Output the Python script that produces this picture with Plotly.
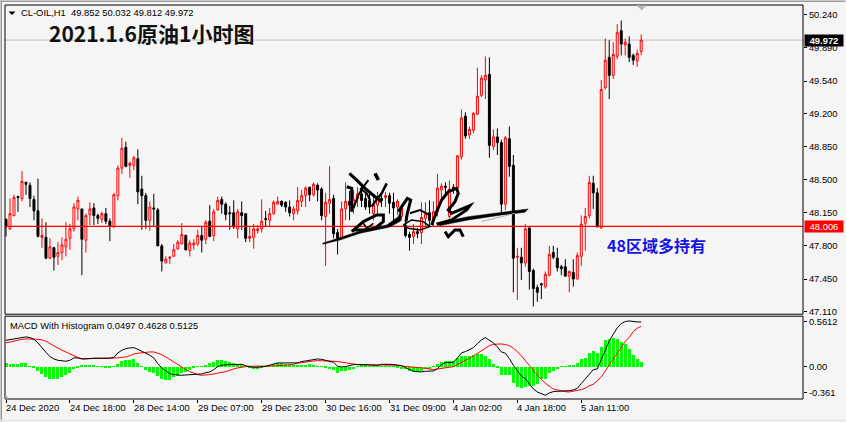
import plotly.graph_objects as go

opens = [48.08,47.98,48.12,48.32,48.30,48.47,48.44,48.29,48.17,47.89,47.89,47.67,47.78,47.69,47.73,47.79,47.88,47.98,48.19,48.19,
47.86,48.13,48.20,48.12,48.08,48.14,48.06,48.00,48.33,48.62,48.84,48.65,48.65,48.72,48.40,48.33,48.07,48.20,48.18,47.80,
47.62,47.67,47.69,47.77,47.82,47.91,47.75,47.81,47.82,47.91,47.87,48.06,47.91,48.18,48.29,48.24,48.15,48.15,47.98,48.15,
48.14,47.88,47.89,47.96,47.98,48.09,48.07,48.14,48.24,
48.27,48.26,48.21,48.14,48.17,48.27,48.33,48.42,48.34,48.44,48.40,48.11,48.25,48.30,47.94,47.89,48.19,48.27,48.24,48.30,
48.35,48.30,48.28,48.14,48.23,48.30,48.31,48.33,48.26,48.21,48.11,48.02,47.92,47.90,47.95,47.94,48.09,48.15,48.09,48.16,
48.39,48.43,48.11,48.42,48.41,48.74,49.17,48.97,49.02,49.19,49.39,49.55,49.61,48.85,48.95,48.89,48.24,48.93,48.65,47.68,
47.68,47.62,47.99,47.54,47.36,47.40,47.37,47.49,47.73,47.67,
47.58,47.58,47.48,47.52,47.45,47.69,48.04,48.12,48.46,48.36,47.99,49.47,49.79,49.60,49.80,50.07,49.92,49.93,49.81,49.75,49.852]
highs = [48.09,48.30,48.34,48.33,48.59,48.48,48.47,48.33,48.51,48.09,48.05,47.88,47.79,47.84,47.89,48.05,48.03,48.25,48.32,48.19,
48.14,48.26,48.25,48.14,48.16,48.20,48.09,48.36,48.65,48.94,48.90,48.69,48.75,48.82,48.54,48.36,48.27,48.35,48.20,47.82,
47.69,47.69,47.82,47.86,48.04,47.92,47.86,47.87,47.97,48.00,48.07,48.23,48.19,48.32,48.32,48.26,48.22,48.28,48.19,48.27,
48.14,48.00,48.03,48.02,48.29,48.17,48.20,48.28,48.32,
48.28,48.27,48.28,48.22,48.42,48.39,48.43,48.42,48.47,48.46,48.42,48.36,48.64,48.34,47.98,48.27,48.47,48.38,48.39,48.42,
48.44,48.37,48.35,48.32,48.37,48.35,48.37,48.36,48.36,48.29,48.21,48.11,47.95,48.03,47.99,48.26,48.26,48.28,48.27,48.56,
48.46,48.47,48.49,48.45,48.76,49.24,49.21,49.06,49.21,49.68,49.60,49.80,49.79,49.03,49.04,48.92,48.96,49.06,48.76,47.78,
47.78,48.03,47.99,47.56,47.39,47.41,47.53,47.80,47.80,47.78,
47.60,47.66,47.54,47.66,47.73,48.12,48.20,48.54,48.54,48.41,49.55,49.99,49.97,49.95,50.14,50.18,49.99,50.01,49.83,49.87,50.032]
lows = [47.90,47.97,48.11,48.16,48.27,48.34,48.21,48.07,47.89,47.78,47.66,47.66,47.54,47.60,47.65,47.69,47.76,47.95,48.07,47.49,
47.73,48.02,48.02,48.03,48.04,48.03,47.85,47.99,48.28,48.56,48.63,48.52,48.60,48.24,47.97,47.98,47.96,48.00,47.80,47.53,
47.62,47.61,47.69,47.76,47.82,47.75,47.69,47.76,47.80,47.73,47.82,47.89,47.85,48.17,48.14,48.07,47.97,47.98,47.88,47.97,
47.84,47.84,47.77,47.93,47.94,48.00,48.00,48.13,48.24,
48.21,48.16,48.11,48.07,48.13,48.21,48.21,48.27,48.32,48.27,48.07,47.59,48.14,47.88,47.71,47.89,48.07,48.07,48.14,48.21,
48.21,48.18,48.14,48.07,48.14,48.21,48.21,48.14,48.07,48.13,48.07,47.89,47.75,47.82,47.88,47.82,48.00,48.00,48.00,48.11,
48.28,48.32,48.09,48.35,48.39,48.71,48.93,48.93,48.99,49.18,49.37,49.35,48.73,48.81,48.76,48.14,48.18,48.53,47.31,47.23,
47.44,47.58,47.34,47.16,47.21,47.24,47.35,47.48,47.66,47.53,
47.49,47.48,47.31,47.37,47.45,47.59,47.75,48.09,48.19,48.00,47.98,49.45,49.35,49.56,49.77,49.81,49.81,49.74,49.71,49.69,49.812]
closes = [48.00,48.14,48.31,48.31,48.48,48.45,48.30,48.17,47.90,47.91,47.67,47.79,47.68,47.73,47.81,47.87,47.98,48.21,48.28,47.87,
48.12,48.19,48.12,48.09,48.14,48.06,48.01,48.34,48.62,48.83,48.64,48.67,48.73,48.37,48.33,48.07,48.21,48.19,47.80,47.64,
47.66,47.68,47.76,47.84,47.92,47.76,47.83,47.83,47.91,47.86,48.05,47.90,48.16,48.28,48.24,48.13,48.14,48.00,48.16,48.12,
47.88,47.90,47.98,47.98,48.06,48.08,48.14,48.26,48.27,
48.23,48.21,48.15,48.19,48.28,48.33,48.41,48.34,48.45,48.39,48.12,48.26,48.29,47.93,47.88,48.19,48.27,48.23,48.29,48.35,
48.28,48.21,48.21,48.23,48.32,48.28,48.33,48.25,48.20,48.27,48.20,47.91,47.89,47.95,47.93,48.10,48.14,48.07,48.16,48.41,
48.43,48.42,48.40,48.40,48.75,49.15,48.96,49.03,49.20,49.38,49.57,49.60,48.86,48.95,48.89,48.24,48.94,48.64,47.67,47.69,
47.62,47.98,47.53,47.35,47.31,47.39,47.50,47.71,47.68,47.57,
47.56,47.48,47.53,47.45,47.70,48.03,48.11,48.47,48.36,48.00,49.45,49.76,49.60,49.82,50.05,49.93,49.95,49.79,49.76,49.83,49.972]

macd_line = [.304,.312,.323,.334,.342,.342,.334,.315,.274,.217,.167,.118,.091,.076,.068,.065,.076,.103,.103,.091,
.091,.099,.099,.099,.099,.091,.099,.110,.160,.190,.209,.217,.220,.201,.179,.156,.133,.103,.038,-.011,
-.049,-.076,-.087,-.095,-.095,-.091,-.087,-.080,-.080,-.080,-.065,-.057,-.030,.004,.019,.027,.027,.027,.027,.030,
.015,0,-.004,-.004,0,.008,.019,.034,.046,.046,.046,.046,.046,.046,.061,.068,.080,.087,.091,.087,
.076,.065,.053,.008,0,.004,.015,.027,.027,.027,.027,.023,.019,.019,.030,.034,.030,.027,.023,.015,
-.008,-.030,-.049,-.053,-.057,-.049,-.046,-.046,-.019,.027,.049,.053,.053,.103,.160,.175,.198,.220,.266,.308,
.334,.308,.274,.228,.171,.156,.095,.019,-.049,-.103,-.133,-.194,-.251,-.285,-.308,-.323,-.296,-.281,-.277,-.277,
-.274,-.270,-.262,-.243,-.190,-.137,-.080,-.030,-.023,.084,.205,.296,.372,.445,.494,.517,.524,.517,.513,.5125]
signal_line = [.274,.285,.296,.308,.315,.319,.319,.319,.315,.308,.293,.266,.239,.213,.190,.171,.148,.125,.106,.095,
.095,.099,.099,.103,.103,.099,.099,.099,.103,.110,.114,.129,.148,.156,.163,.167,.171,.171,.160,.141,
.114,.084,.057,.023,-.008,-.030,-.053,-.072,-.087,-.095,-.095,-.087,-.080,-.068,-.061,-.053,-.042,-.023,-.011,0,
.004,.008,.008,.008,.004,.004,.008,.011,.015,.015,.015,.023,.030,.046,.049,.057,.065,.068,.072,.072,
.072,.068,.065,.061,.053,.046,.038,.030,.027,.027,.027,.027,.027,.027,.027,.027,.027,.027,.019,.011,
.008,.004,0,-.004,-.011,-.015,-.023,-.030,-.023,-.015,-.008,0,.004,.027,.049,.072,.099,.125,.156,.186,
.217,.243,.258,.262,.262,.255,.243,.213,.175,.125,.076,.019,-.042,-.095,-.141,-.186,-.220,-.251,-.262,-.274,
-.281,-.285,-.277,-.270,-.258,-.243,-.213,-.198,-.152,-.114,-.046,.027,.091,.156,.220,.289,.338,.403,.441,.4628]
histogram = [.046,.027,.027,.027,.038,.038,.008,-.015,-.049,-.087,-.118,-.137,-.141,-.141,-.118,-.095,-.068,-.023,-.004,.011,
.015,.011,.015,.008,.008,-.015,-.011,-.002,.027,.065,.076,.080,.087,.046,.008,-.042,-.057,-.068,-.106,-.144,
-.156,-.148,-.118,-.106,-.076,-.061,-.042,-.015,.002,.008,.019,.038,.053,.072,.072,.065,.053,.046,.027,.027,
-.002,-.015,-.023,-.027,-.015,-.002,.008,.027,.046,.046,.034,.027,.015,.015,.015,.023,.027,.019,.008,-.002,
-.004,-.023,-.038,-.068,-.053,-.046,-.042,-.023,.008,.023,.015,.004,.004,.004,.008,.008,.004,-.002,-.004,-.023,
-.030,-.053,-.057,-.057,-.053,-.027,-.023,-.002,.034,.057,.061,.061,.061,.095,.118,.118,.122,.133,.141,.148,
.122,.084,.027,-.011,-.099,-.099,-.095,-.182,-.228,-.247,-.232,-.220,-.220,-.201,-.144,-.137,-.068,-.046,-.023,-.002,
.008,.015,.023,.046,.084,.103,.152,.175,.156,.228,.304,.319,.323,.319,.285,.262,.198,.133,.084,.0497]

bar_numbers = list(range(len(closes)))
price_ticks = [50.24,49.89,49.54,49.20,48.85,48.50,48.15,47.80,47.45,47.11]
price_labels = ["50.240","49.890","49.540","49.200","48.850","48.500","48.150","47.800","47.450","47.110"]
time_ticks = [0,16,32,48,64,80,96,112,128,144]
time_labels = ["24 Dec 2020","24 Dec 18:00","28 Dec 14:00","29 Dec 07:00","29 Dec 23:00",
               "30 Dec 16:00","31 Dec 09:00","4 Jan 02:00","4 Jan 18:00","5 Jan 11:00"]
last_price = 49.972
level_price = 48.006
header_text = "CL-OIL,H1  49.852 50.032 49.812 49.972"
macd_text = "MACD With Histogram 0.0497 0.4628 0.5125"
title_text = "<b>2021.1.6原油1小时图</b>"
note_text = "<b>48区域多持有</b>"

W, H = 846, 422
L, R, T, B = 4.5, 803.5, 4.5, 399.5
def px(x): return (x - L) / (R - L)
def py(y): return (B - y) / (B - T)
FONT = "Liberation Sans"
FS = 9.4
X0 = 5.5

fig = go.Figure()
fig.add_trace(go.Candlestick(
    x=bar_numbers, open=opens, high=highs, low=lows, close=closes,
    increasing=dict(line=dict(color="#ff0000", width=1), fillcolor="#f5f5f5"),
    decreasing=dict(line=dict(color="#000000", width=1), fillcolor="#000000"),
    whiskerwidth=0, showlegend=False, xaxis="x", yaxis="y", hoverinfo="skip"))
fig.add_trace(go.Bar(x=bar_numbers, y=histogram, marker=dict(color="#00ff00", line_width=0),
                     width=0.75, showlegend=False, xaxis="x", yaxis="y2"))
fig.add_trace(go.Scatter(x=bar_numbers, y=signal_line, mode="lines", line=dict(color="#ff0000", width=1),
                         showlegend=False, xaxis="x", yaxis="y2"))
fig.add_trace(go.Scatter(x=bar_numbers, y=macd_line, mode="lines", line=dict(color="#000000", width=1),
                         showlegend=False, xaxis="x", yaxis="y2"))

shapes = []
# price level lines
shapes.append(dict(type="line", xref="paper", x0=0, x1=1, yref="y", y0=last_price, y1=last_price,
                   line=dict(color="#c0c0c0", width=1), layer="below"))
shapes.append(dict(type="line", xref="paper", x0=0, x1=1, yref="y", y0=level_price, y1=level_price,
                   line=dict(color="#ff0000", width=1.2)))
# pane frames
shapes.append(dict(type="rect", xref="paper", yref="paper", x0=0, x1=1, y0=py(314.5), y1=1,
                   line=dict(color="#000000", width=1)))
shapes.append(dict(type="rect", xref="paper", yref="paper", x0=0, x1=1, y0=0, y1=py(316.5),
                   line=dict(color="#000000", width=1)))

def poly(origin, points, closed=False):
    s = ""
    for i, (a, b) in enumerate(points):
        s += ("M" if i == 0 else "L") + f"{px(origin + a / 3):.5f},{py(165 + b / 3):.5f} "
    return s + ("Z" if closed else "")

# handwritten signature overlay: (crop origin, outline)
for org, pts in [
    (320, [(8,235),(60,218),(120,198),(200,180),(235,155),(245,125),(242,168),(210,186),(120,205),(60,225),(8,238)]),
    (425, [(35,175),(130,155),(310,132),(300,142),(230,150),(130,165),(45,182)]),
]:
    shapes.append(dict(type="path", xref="paper", yref="paper", path=poly(org, pts, True),
                       fillcolor="#000000", line=dict(color="#000000", width=0.5)))
for org, pts, w, c in [
    (320, [(88,25),(110,45),(135,70),(165,95),(185,110)], 3.2, "#000000"),
    (320, [(80,65),(95,70),(95,110),(95,140)], 3, "#000000"),
    (320, [(165,25),(175,45)], 3.5, "#000000"),
    (320, [(145,45),(130,65),(115,90),(100,130)], 2, "#000000"),
    (320, [(120,70),(140,85),(150,105)], 2, "#000000"),
    (320, [(200,55),(185,85),(165,110),(155,125)], 2.5, "#000000"),
    (320, [(95,200),(130,170),(170,150),(190,150),(190,170),(165,190),(130,195),(100,195)], 3, "#000000"),
    (320, [(130,175),(140,190),(160,175)], 1.5, "#000000"),
    (320, [(235,140),(262,100),(272,105),(262,145),(258,170)], 3, "#000000"),
    (320, [(270,145),(300,135),(328,150)], 2, "#000000"),
    (320, [(250,180),(275,165),(310,170),(330,185),(300,195),(265,190),(250,180)], 1.5, "#000000"),
    (425, [(20,180),(35,140),(50,105),(70,80),(95,70),(100,85),(90,110),(70,135),(80,145),(135,122),(125,135),(80,165),(35,178)], 3, "#000000"),
    (425, [(170,170),(270,145)], 1, "#a8a8a8"),
    (425, [(60,200),(70,215),(90,195),(105,195),(115,215)], 3, "#000000"),
]:
    shapes.append(dict(type="path", xref="paper", yref="paper", path=poly(org, pts),
                       line=dict(color=c, width=w)))

def tri(p, color):
    d = "".join(("M" if i == 0 else "L") + f"{px(a):.5f},{py(b):.5f} " for i, (a, b) in enumerate(p)) + "Z"
    return dict(type="path", xref="paper", yref="paper", path=d, fillcolor=color, line_width=0)
shapes.append(tri([(8,11),(15,11),(11.5,14.5)], "#000000"))
shapes.append(tri([(637,5),(647,5),(642,10)], "#b8b8b8"))
shapes.append(tri([(5,395),(5,399),(9,399)], "#b8b8b8"))

annotations = []
def label(x, y, text, size=FS, color="#000000", family=FONT, xanchor="left", **kw):
    annotations.append(dict(x=px(x), y=py(y), xref="paper", yref="paper", text=text, showarrow=False,
                            xanchor=xanchor, yanchor="middle", xshift=0, borderpad=0,
                            font=dict(family=family, size=size, color=color), **kw))
label(20, 12.5, header_text)
label(9, 325.5, macd_text)
label(48, 32.5, title_text, size=21, color="#111111", family="Noto Sans CJK SC, Noto Sans")
label(606, 245.5, note_text, size=16, color="#1414e6", family="Noto Sans CJK SC, Noto Sans")
for t, s in zip(time_ticks, time_labels):
    annotations.append(dict(x=t, xref="x", y=py(408.5), yref="paper", text=s, showarrow=False,
                            xanchor="left", yanchor="middle", xshift=-2,
                            font=dict(family=FONT, size=FS, color="#000000")))
annotations.append(dict(x=1, xref="paper", xanchor="left", xshift=1, y=last_price, yref="y", text="<b>49.972</b>",
                        showarrow=False, bgcolor="#000000", font=dict(family=FONT, size=FS, color="#ffffff"),
                        borderpad=1, width=36, align="center", height=9))
annotations.append(dict(x=1, xref="paper", xanchor="left", xshift=1, y=level_price, yref="y", text="48.006",
                        showarrow=False, bgcolor="#ff0000", font=dict(family=FONT, size=FS, color="#ffffff"),
                        borderpad=1, width=36, align="center", height=9))

# window edges
shapes.append(dict(type="rect", xref="paper", yref="paper", x0=px(0), x1=px(1.5), y0=py(422), y1=py(0),
                   fillcolor="#9a9a9a", line_width=0))
shapes.append(dict(type="rect", xref="paper", yref="paper", x0=px(0), x1=px(846), y0=py(1.5), y1=py(0),
                   fillcolor="#9a9a9a", line_width=0))
shapes.append(dict(type="rect", xref="paper", yref="paper", x0=px(0), x1=px(846), y0=py(422), y1=py(420),
                   fillcolor="#e6e6e6", line_width=0))

unit = 95.0
fig.update_layout(
    width=W, height=H, autosize=False, margin=dict(l=L, r=W - R, t=T, b=H - B, pad=0, autoexpand=False),
    paper_bgcolor="#f5f5f5", plot_bgcolor="#f5f5f5", bargap=0, dragmode=False,
    xaxis=dict(domain=[0, 1], anchor="y2", range=[(L - X0) / 4, (R - X0) / 4],
               rangeslider=dict(visible=False),
               tickmode="array", tickvals=time_ticks, showticklabels=False, ticks="outside",
               ticklen=3, tickcolor="#000000", showgrid=False, zeroline=False),
    yaxis=dict(domain=[py(314.5), 1], side="right", anchor="x",
               range=[48 + (227 - 314.5) / unit, 48 + (227 - 4.5) / unit],
               tickmode="array", tickvals=price_ticks, ticktext=price_labels, ticks="outside", ticklen=3,
               tickcolor="#000000", showgrid=False, zeroline=False,
               tickfont=dict(family=FONT, size=FS, color="#000000")),
    yaxis2=dict(domain=[0, py(316.5)], side="right", anchor="x", range=[-0.365, 0.578],
                tickmode="array", tickvals=[0.5155, 0, -0.289], ticktext=["0.5612", "0.00", "-0.361"],
                ticks="outside", ticklen=3, tickcolor="#000000", showgrid=False, zeroline=False,
                tickfont=dict(family=FONT, size=FS, color="#000000")),
    shapes=shapes, annotations=annotations, showlegend=False,
)
fig.write_html("out.html", post_script="document.body.style.margin='0';document.body.style.overflow='hidden';",
               config=dict(displayModeBar=False))
